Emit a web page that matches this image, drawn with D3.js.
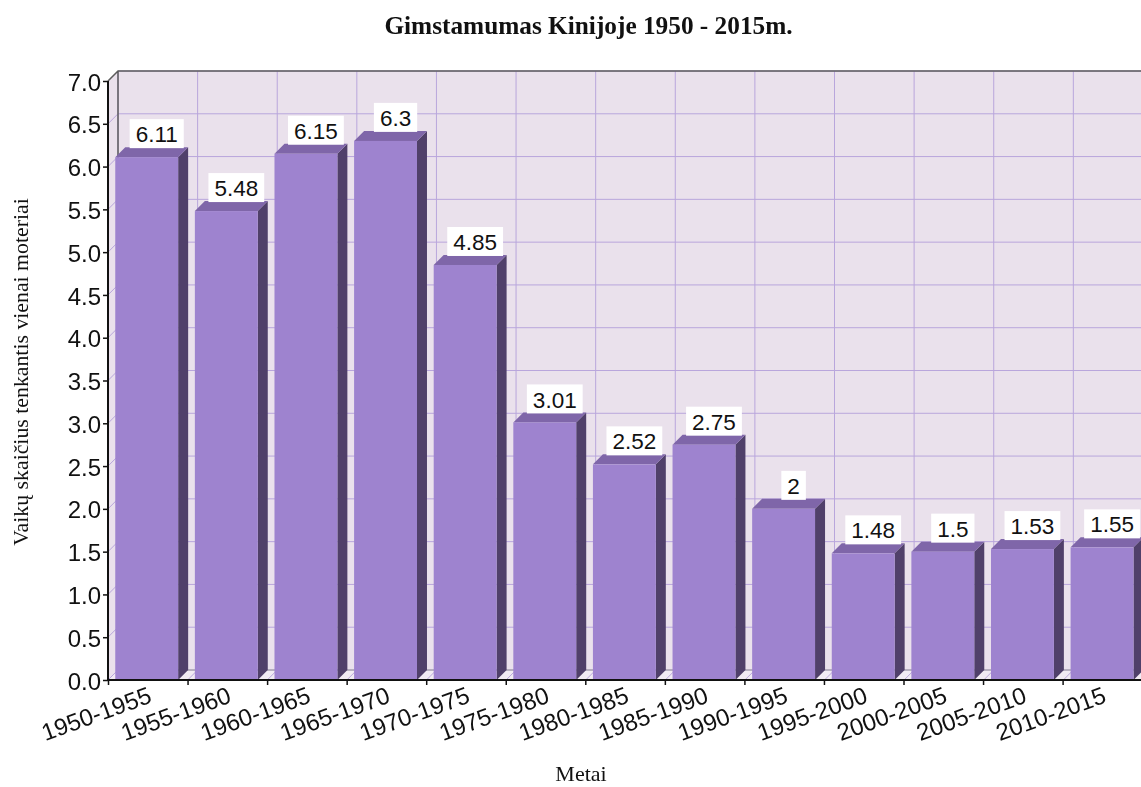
<!DOCTYPE html>
<html>
<head>
<meta charset="utf-8">
<script src="https://d3js.org/d3.v7.min.js"></script>
<style>
html,body{margin:0;padding:0;background:#fff;overflow:hidden}
svg{display:block;filter:blur(0.4px)}
.sans{font-family:"Liberation Sans",Arial,sans-serif;fill:#111}
.serif{font-family:"Liberation Serif","Times New Roman",serif;fill:#111}
</style>
</head>
<body>
<script>
var categories = ["1950-1955","1955-1960","1960-1965","1965-1970","1970-1975","1975-1980","1980-1985","1985-1990","1990-1995","1995-2000","2000-2005","2005-2010","2010-2015"];
var values = [6.11,5.48,6.15,6.3,4.85,3.01,2.52,2.75,2,1.48,1.5,1.53,1.55];
var yTicks = [0,0.5,1,1.5,2,2.5,3,3.5,4,4.5,5,5.5,6,6.5,7];
var title = "Gimstamumas Kinijoje 1950 - 2015m.";
var yTitle = "Vaikų skaičius tenkantis vienai moteriai";
var xTitle = "Metai";

var width = 1141, height = 787;
var depth = 10;
var plotLeft = 108, plotBottom = 680, plotTop = 81;
var plotRight = plotLeft + 79.55 * categories.length;

var svg = d3.select("body").append("svg").attr("width", width).attr("height", height);

var x = d3.scaleBand().domain(categories).range([plotLeft, plotRight]).paddingInner(0.21).paddingOuter(0.1);
var barShift = -0.7;
var y = d3.scaleLinear().domain([0, 7]).range([plotBottom, plotTop]);

// chart walls, clipped by the picture edge
svg.append("path").attr("fill", "#eae1ec")
    .attr("d", "M" + plotLeft + "," + plotTop + "L" + (plotLeft + depth) + "," + (plotTop - depth) + "H" + width + "V" + (plotBottom - depth) + "H" + (plotLeft + depth) + "L" + plotLeft + "," + plotBottom + "Z");
svg.append("path").attr("fill", "#f1ebf3")
    .attr("d", "M" + plotLeft + "," + plotBottom + "L" + (plotLeft + depth) + "," + (plotBottom - depth) + "H" + width + "V" + plotBottom + "Z");

var grid = svg.append("g").attr("stroke", "#b9a6dc").attr("stroke-width", 1).attr("fill", "none");
grid.selectAll(".h").data(yTicks).enter().append("path")
    .attr("d", function(d) {
        return "M" + plotLeft + "," + y(d) + "L" + (plotLeft + depth) + "," + (y(d) - depth) + "H" + width;
    });
var xTicks = d3.range(categories.length + 1).map(function(i) { return plotLeft + x.step() * i; });
grid.selectAll(".v").data(xTicks).enter().append("path")
    .attr("d", function(d) {
        return "M" + d + "," + plotBottom + "L" + (d + depth) + "," + (plotBottom - depth) + "V" + (plotTop - depth);
    });

// dark edges of the back wall
svg.append("path").attr("fill", "none").attr("stroke", "#5c5c5c").attr("stroke-width", 1.5)
    .attr("d", "M" + plotLeft + "," + plotTop + "L" + (plotLeft + depth) + "," + (plotTop - depth) + "H" + width + "M" + (plotLeft + depth) + "," + (plotTop - depth) + "V" + (plotBottom - depth));
svg.append("path").attr("fill", "none").attr("stroke", "#9a9a9a").attr("stroke-width", 1)
    .attr("d", "M" + (plotLeft + depth) + "," + (plotBottom - depth) + "H" + width);

// bars
var bars = svg.selectAll(".bar").data(values).enter().append("g").attr("class", "bar")
    .attr("transform", "translate(" + barShift + ",0)");
bars.append("path").attr("fill", "#50406a")
    .attr("d", function(d, i) {
        var x1 = x(categories[i]) + x.bandwidth();
        return "M" + x1 + "," + y(d) + "l" + depth + "," + (-depth) + "V" + (plotBottom - depth) + "L" + x1 + "," + plotBottom + "Z";
    });
bars.append("path").attr("fill", "#7f66a9")
    .attr("d", function(d, i) {
        var x0 = x(categories[i]);
        return "M" + x0 + "," + y(d) + "l" + depth + "," + (-depth) + "h" + x.bandwidth() + "l" + (-depth) + "," + depth + "Z";
    });
bars.append("rect").attr("fill", "#9e83cf")
    .attr("x", function(d, i) { return x(categories[i]); })
    .attr("y", function(d) { return y(d); })
    .attr("width", x.bandwidth())
    .attr("height", function(d) { return plotBottom - y(d); });

// value labels on white boxes
var labels = svg.selectAll(".lab").data(values).enter().append("g").attr("class", "lab")
    .attr("transform", function(d, i) {
        return "translate(" + (x(categories[i]) + x.bandwidth() / 2 + depth + barShift) + "," + (y(d) - depth - 13) + ")";
    });
labels.append("text").attr("class", "sans").attr("text-anchor", "middle").attr("dy", "0.36em")
    .style("font-size", "22.5px").text(function(d) { return d; });
labels.insert("rect", "text").attr("fill", "#fff")
    .each(function() {
        var b = this.parentNode.querySelector("text").getBBox();
        d3.select(this).attr("x", b.x - 6).attr("width", b.width + 12).attr("y", -15).attr("height", 29);
    });

// axes
var yAxis = d3.axisLeft(y).tickValues(yTicks).tickSize(5).tickPadding(2)
    .tickFormat(function(d) { return d.toFixed(1); });
var gy = svg.append("g").attr("transform", "translate(" + plotLeft + ",0)").call(yAxis);
gy.selectAll("text").attr("class", "sans").attr("fill", null).attr("dy", "0.38em").style("font-size", "24px");
gy.attr("font-family", null);
gy.selectAll("line").attr("stroke", "#111").attr("stroke-width", 1.5);
gy.select(".domain").attr("stroke", "#111").attr("stroke-width", 2).attr("d", "M0," + plotTop + "V" + plotBottom);

var tickScale = d3.scaleLinear().domain([0, categories.length]).range([plotLeft, plotRight]);
var xAxis = d3.axisBottom(tickScale).tickValues(d3.range(categories.length + 1)).tickSize(5).tickFormat("");
var gx = svg.append("g").attr("transform", "translate(0," + plotBottom + ")").call(xAxis);
gx.selectAll("line").attr("stroke", "#111").attr("stroke-width", 1.5);
gx.select(".domain").attr("stroke", "#111").attr("stroke-width", 2).attr("d", "M" + plotLeft + ",0H" + width);

svg.selectAll(".xl").data(categories).enter().append("text").attr("class", "sans")
    .attr("text-anchor", "end")
    .style("font-size", "24px")
    .attr("transform", function(d, i) {
        return "translate(" + (tickScale(i) + 45) + ",702) rotate(-20)";
    })
    .text(function(d) { return d; });

// titles
svg.append("text").attr("class", "serif").attr("x", 588.5).attr("y", 34).attr("text-anchor", "middle")
    .style("font-size", "25.3px").style("font-weight", "bold").text(title);
svg.append("text").attr("class", "serif").attr("x", 581).attr("y", 781).attr("text-anchor", "middle")
    .style("font-size", "22px").text(xTitle);
svg.append("text").attr("class", "serif").attr("text-anchor", "middle")
    .attr("transform", "translate(28,372) rotate(-90)")
    .style("font-size", "21.8px").text(yTitle);
</script>
</body>
</html>
